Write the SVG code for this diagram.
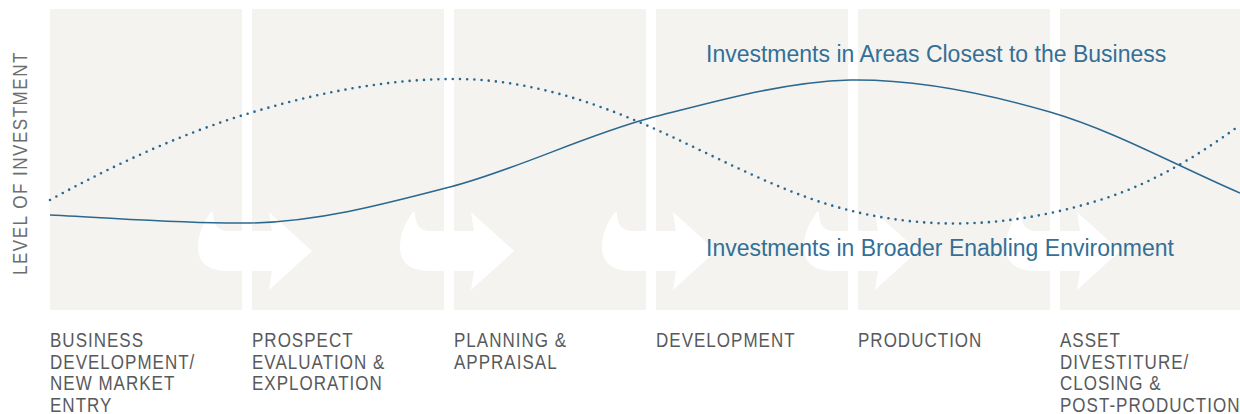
<svg xmlns="http://www.w3.org/2000/svg" width="1240" height="414" viewBox="0 0 1240 414">
  <style>
    .panel { fill: #f4f3ef; }
    .arrow { fill: #ffffff; }
    .curve { fill: none; stroke: #2b6890; }
    .solid { stroke-width: 1.5; }
    .dotted { stroke-width: 2.6; stroke-linecap: round; stroke-dasharray: 0 7.2; }
    .series { font-family: "Liberation Sans", Arial, sans-serif; font-size: 23px; fill: #336f96; }
    .stage { font-family: "Liberation Sans", Arial, sans-serif; font-size: 20px; fill: #58595b; letter-spacing: 1.2px; }
    .axis { font-family: "Liberation Sans", Arial, sans-serif; font-size: 20px; fill: #6d6e70; letter-spacing: 1.8px; }
  </style>
  <defs>
    <path id="flowArrow" d="M-36,212 L-34,212 C-34,222 -31,231 -19,231 L25,231 L22,212 L65,251 L22,290 L25,271 L-19,271 C-40,271 -49,262 -49,247 C-49,232 -42,220 -36,212 Z"/>
  </defs>
  <rect width="1240" height="414" fill="#ffffff"/>

  <g id="stage-business-development">
    <rect class="panel" x="50" y="9" width="192" height="301"/>
    <text class="stage" transform="translate(50,347) scale(0.85,1)"><tspan x="0" y="0">BUSINESS</tspan><tspan x="0" dy="21.6">DEVELOPMENT/</tspan><tspan x="0" dy="21.6">NEW MARKET</tspan><tspan x="0" dy="21.6">ENTRY</tspan></text>
  </g>
  <g id="stage-prospect-evaluation">
    <rect class="panel" x="252" y="9" width="192" height="301"/>
    <text class="stage" transform="translate(252,347) scale(0.85,1)"><tspan x="0" y="0">PROSPECT</tspan><tspan x="0" dy="21.6">EVALUATION &amp;</tspan><tspan x="0" dy="21.6">EXPLORATION</tspan></text>
  </g>
  <g id="stage-planning-appraisal">
    <rect class="panel" x="454" y="9" width="192" height="301"/>
    <text class="stage" transform="translate(454,347) scale(0.85,1)"><tspan x="0" y="0">PLANNING &amp;</tspan><tspan x="0" dy="21.6">APPRAISAL</tspan></text>
  </g>
  <g id="stage-development">
    <rect class="panel" x="656" y="9" width="192" height="301"/>
    <text class="stage" transform="translate(656,347) scale(0.85,1)"><tspan x="0" y="0">DEVELOPMENT</tspan></text>
  </g>
  <g id="stage-production">
    <rect class="panel" x="858" y="9" width="192" height="301"/>
    <text class="stage" transform="translate(858,347) scale(0.85,1)"><tspan x="0" y="0">PRODUCTION</tspan></text>
  </g>
  <g id="stage-asset-divestiture">
    <rect class="panel" x="1060" y="9" width="180" height="301"/>
    <text class="stage" transform="translate(1060,347) scale(0.85,1)"><tspan x="0" y="0">ASSET</tspan><tspan x="0" dy="21.6">DIVESTITURE/</tspan><tspan x="0" dy="21.6">CLOSING &amp;</tspan><tspan x="0" dy="21.6">POST-PRODUCTION</tspan></text>
  </g>

  <g id="flow-arrows">
    <use href="#flowArrow" class="arrow" transform="translate(247,0)"/>
    <use href="#flowArrow" class="arrow" transform="translate(449,0)"/>
    <use href="#flowArrow" class="arrow" transform="translate(651,0)"/>
    <use href="#flowArrow" class="arrow" transform="translate(853,0)"/>
    <use href="#flowArrow" class="arrow" transform="translate(1055,0)"/>
  </g>

  <g id="connectors">
    <path id="closest-to-business" class="curve solid" d="M50,215 C117,218 183,224 250,223 C317,222 383,204.5 450,187 C517,169.5 583,136 650,118 C717,101 783,82 850,80 C917,79 985,93 1050,112 C1115,131 1177,166 1240,193"/>
    <path id="broader-environment" class="curve dotted" d="M50,200 C116.7,163.3 183.3,133 250,113 C318.3,92.5 386.7,79 455,79 C521.7,79 588.3,99 655,129 C713.3,155.3 771.7,187.5 830,205 C871.7,217.5 913.3,223.5 955,223.5 C1003.3,223.5 1051.7,215 1100,200 C1146.7,185.5 1193.3,159.5 1240,125"/>
  </g>

  <g id="series-labels">
    <text class="series" x="706" y="62">Investments in Areas Closest to the Business</text>
    <text class="series" x="706" y="256">Investments in Broader Enabling Environment</text>
  </g>

  <g id="axis-label">
    <text class="axis" transform="translate(27,275) rotate(-90) scale(0.85,1)">LEVEL OF INVESTMENT</text>
  </g>
</svg>
